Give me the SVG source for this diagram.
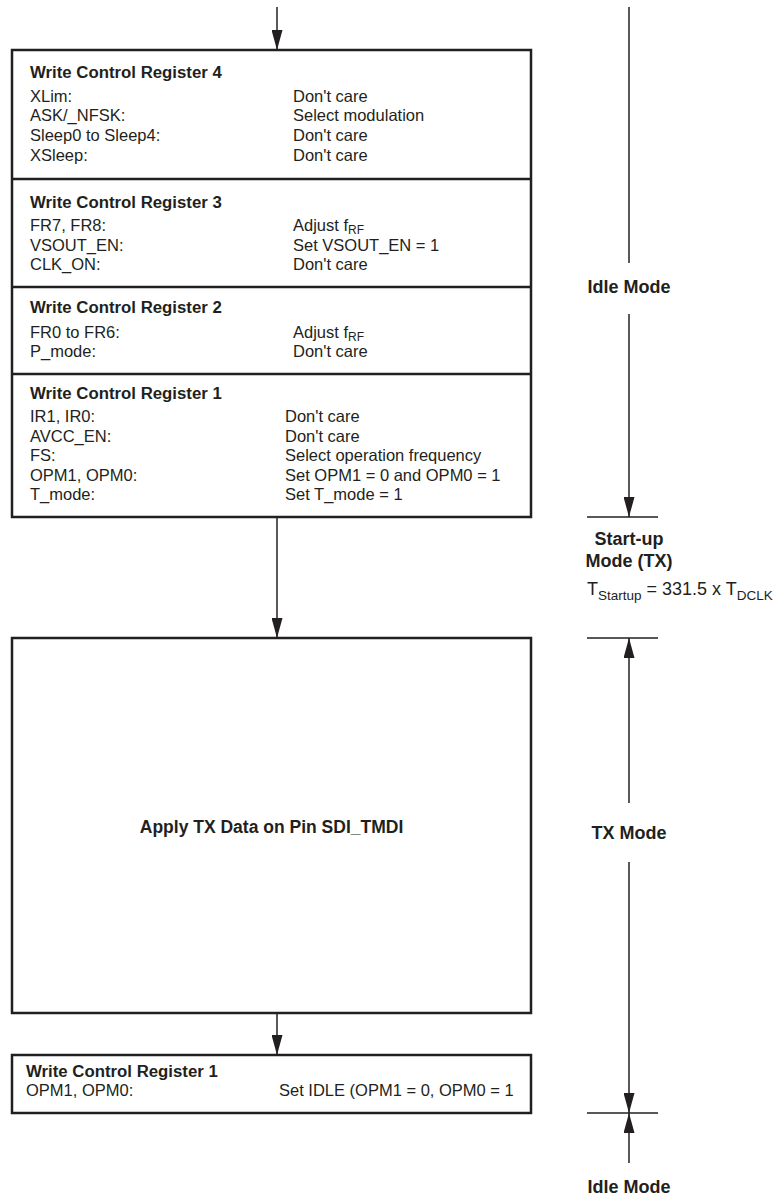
<svg xmlns="http://www.w3.org/2000/svg" width="779" height="1198" viewBox="0 0 779 1198">
<style>
.box{fill:#fff;stroke:#231f20;stroke-width:2.5}
.div{stroke:#231f20;stroke-width:2.5}
.t{font-family:"Liberation Sans",Arial,sans-serif;font-size:16.5px;fill:#231f20}
.b{font-weight:bold;font-size:16.8px}
.m{font-family:"Liberation Sans",Arial,sans-serif;font-size:18px;fill:#231f20;font-weight:bold;text-anchor:middle}
.r{font-family:"Liberation Sans",Arial,sans-serif;font-size:18px;fill:#231f20}
.ln{stroke:#231f20;stroke-width:1.5;fill:none}
</style>
<defs>
<marker id="arr" markerUnits="userSpaceOnUse" markerWidth="20" markerHeight="11" refX="20" refY="5.5" orient="auto">
<path d="M0,0 L20,5.5 L0,11 z" fill="#231f20"/>
</marker>
</defs>

<g id="n_regs">
<rect class="box" x="12" y="50" width="519" height="467"/>
<line class="div" x1="12" y1="179" x2="531" y2="179"/>
<line class="div" x1="12" y1="287" x2="531" y2="287"/>
<line class="div" x1="12" y1="374" x2="531" y2="374"/>
<text class="t b" x="30" y="78">Write Control Register 4</text>
<text class="t" x="30" y="101.5">XLim:</text>
<text class="t" x="30" y="121">ASK/_NFSK:</text>
<text class="t" x="30" y="141">Sleep0 to Sleep4:</text>
<text class="t" x="30" y="160.5">XSleep:</text>
<text class="t" x="293" y="101.5">Don't care</text>
<text class="t" x="293" y="121">Select modulation</text>
<text class="t" x="293" y="141">Don't care</text>
<text class="t" x="293" y="160.5">Don't care</text>

<text class="t b" x="30" y="208">Write Control Register 3</text>
<text class="t" x="30" y="231">FR7, FR8:</text>
<text class="t" x="30" y="251">VSOUT_EN:</text>
<text class="t" x="30" y="270">CLK_ON:</text>
<text class="t" x="293" y="231">Adjust f<tspan font-size="12" dy="3">RF</tspan></text>
<text class="t" x="293" y="251">Set VSOUT_EN = 1</text>
<text class="t" x="293" y="270">Don't care</text>

<text class="t b" x="30" y="313">Write Control Register 2</text>
<text class="t" x="30" y="338">FR0 to FR6:</text>
<text class="t" x="30" y="357">P_mode:</text>
<text class="t" x="293" y="338">Adjust f<tspan font-size="12" dy="3">RF</tspan></text>
<text class="t" x="293" y="357">Don't care</text>

<text class="t b" x="30" y="399">Write Control Register 1</text>
<text class="t" x="30" y="422">IR1, IR0:</text>
<text class="t" x="30" y="441.5">AVCC_EN:</text>
<text class="t" x="30" y="461">FS:</text>
<text class="t" x="30" y="480.5">OPM1, OPM0:</text>
<text class="t" x="30" y="500">T_mode:</text>
<text class="t" x="285" y="422">Don't care</text>
<text class="t" x="285" y="441.5">Don't care</text>
<text class="t" x="285" y="461">Select operation frequency</text>
<text class="t" x="285" y="480.5">Set OPM1 = 0 and OPM0 = 1</text>
<text class="t" x="285" y="500">Set T_mode = 1</text>
</g>

<g id="n_tx">
<rect class="box" x="12" y="638" width="519" height="375"/>
<text class="t b" x="271.5" y="833" text-anchor="middle" style="font-size:17.5px">Apply TX Data on Pin SDI_TMDI</text>
</g>

<g id="n_idle">
<rect class="box" x="12" y="1055" width="519" height="58"/>
<text class="t b" x="26" y="1077">Write Control Register 1</text>
<text class="t" x="26" y="1096">OPM1, OPM0:</text>
<text class="t" x="279" y="1096">Set IDLE (OPM1 = 0, OPM0 = 1</text>
</g>

<g id="timeline">
<line class="ln" x1="629" y1="7" x2="629" y2="263"/>
<text class="m" x="629" y="293">Idle Mode</text>
<line class="ln" x1="629" y1="314" x2="629" y2="517" marker-end="url(#arr)"/>
<line class="ln" x1="587" y1="517" x2="658" y2="517"/>
<text class="m" x="629" y="545">Start-up</text>
<text class="m" x="629" y="567">Mode (TX)</text>
<text class="r" x="587" y="595">T<tspan font-size="13.5" dy="5">Startup</tspan><tspan dy="-5"> = 331.5 x T</tspan><tspan font-size="13.5" dy="5">DCLK</tspan></text>
<line class="ln" x1="587" y1="638" x2="658" y2="638"/>
<line class="ln" x1="629" y1="803" x2="629" y2="638" marker-end="url(#arr)"/>
<text class="m" x="629" y="839">TX Mode</text>
<line class="ln" x1="629" y1="862" x2="629" y2="1113" marker-end="url(#arr)"/>
<line class="ln" x1="587" y1="1113" x2="658" y2="1113"/>
<line class="ln" x1="629" y1="1163" x2="629" y2="1113" marker-end="url(#arr)"/>
<text class="m" x="629" y="1193">Idle Mode</text>
</g>

<g id="connectors">
<line class="ln" x1="277" y1="7" x2="277" y2="50" marker-end="url(#arr)"/>
<line class="ln" x1="277" y1="517" x2="277" y2="638" marker-end="url(#arr)"/>
<line class="ln" x1="277" y1="1013" x2="277" y2="1055" marker-end="url(#arr)"/>
</g>
</svg>
